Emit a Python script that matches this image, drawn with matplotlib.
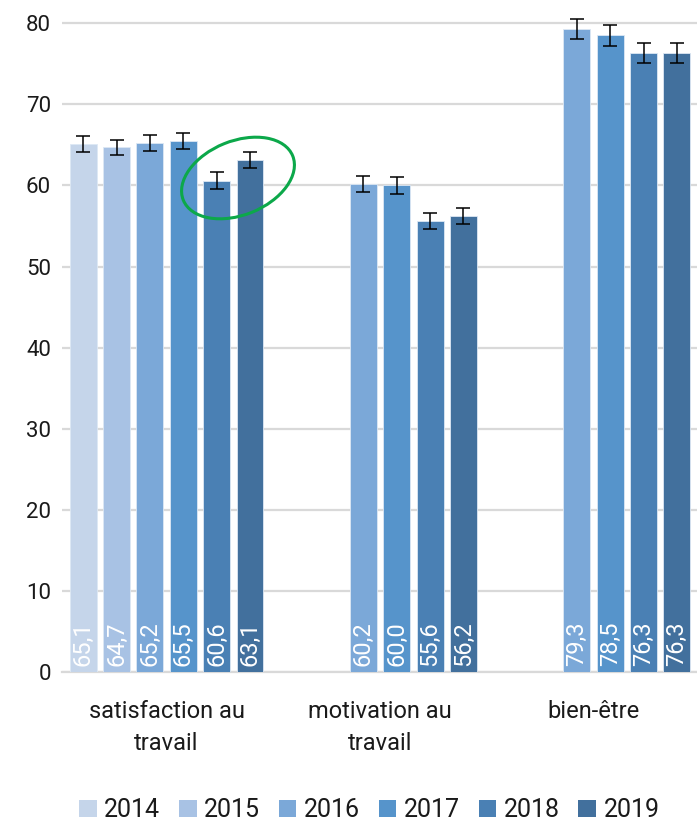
import matplotlib.pyplot as plt
import numpy as np
from matplotlib.patches import Ellipse, Patch

# data
categories = ["satisfaction au\ntravail", "motivation au\ntravail", "bien-être"]
years = ["2014", "2015", "2016", "2017", "2018", "2019"]
satisfaction = [65.1, 64.7, 65.2, 65.5, 60.6, 63.1]
motivation = [None, None, 60.2, 60.0, 55.6, 56.2]
bien_etre = [None, None, 79.3, 78.5, 76.3, 76.3]
err_satisfaction = [0.95, 0.95, 1.0, 1.0, 1.0, 1.0]
err_motivation = [None, None, 1.0, 1.0, 1.0, 1.0]
err_bien_etre = [None, None, 1.2, 1.25, 1.25, 1.25]

colors = ["#c5d5ea", "#a8c2e4", "#7ba8d8", "#5694cb", "#4a80b4", "#42709d"]

plt.rcParams['font.family'] = ['Roboto', 'DejaVu Sans']

fig = plt.figure(figsize=(6.97, 8.25), dpi=100)
ax = fig.add_axes([62 / 697, (825 - 672) / 825, 635 / 697, 665 / 825])

slot = 0.1564
width = 0.126
series = [satisfaction, motivation, bien_etre]
errors = [err_satisfaction, err_motivation, err_bien_etre]

for j, year in enumerate(years):
    xs, vals, errs = [], [], []
    for i in range(len(categories)):
        v = series[i][j]
        if v is None:
            continue
        xs.append(i + (j - 2.5) * slot)
        vals.append(v)
        errs.append(errors[i][j])
    ax.bar(xs, vals, width=width, color=colors[j], edgecolor="#dde8f4",
           linewidth=0.6, zorder=3)
    ax.errorbar(xs, vals, yerr=errs, fmt="none", ecolor="black", elinewidth=1.1,
                capsize=5, capthick=1.1, zorder=4, clip_on=False)
    for x, v in zip(xs, vals):
        ax.text(x, 0.8, f"{v:.1f}".replace(".", ","), rotation=90, ha="center",
                va="bottom", color="white", fontsize=17, zorder=5)

ax.set_xlim(-0.49, 2.485)
ax.set_ylim(0, 82)
ax.set_yticks(range(0, 81, 10))
ax.yaxis.grid(True, color="#d9d9d9", linewidth=1.6, zorder=0)
ax.set_axisbelow(True)
for s in ["top", "right", "left"]:
    ax.spines[s].set_visible(False)
ax.spines["bottom"].set_color("#d9d9d9")
ax.spines["bottom"].set_linewidth(1.6)
ax.tick_params(axis="y", length=0, labelsize=16, pad=8, labelcolor="#1a1a1a")
ax.set_xticks(range(len(categories)))
ax.set_xticklabels(categories, fontsize=17, color="#1a1a1a", linespacing=1.5)
ax.tick_params(axis="x", length=0, pad=20)

# green highlight ellipse
ell = Ellipse((238 / 100, (825 - 178) / 100), width=1.18, height=0.74, angle=22,
              transform=fig.dpi_scale_trans, fill=False, edgecolor="#0ca84a",
              linewidth=2.2, zorder=10)
fig.patches.append(ell)

handles = [Patch(facecolor=c, edgecolor="none") for c in colors]
fig.legend(handles, years, loc="lower center", bbox_to_anchor=(0.53, -0.024),
           ncol=6, frameon=False, fontsize=18, handlelength=0.7,
           handleheight=0.7, handletextpad=0.3, columnspacing=0.75,
           labelcolor="#1a1a1a")

plt.savefig("out.png", dpi=100)
